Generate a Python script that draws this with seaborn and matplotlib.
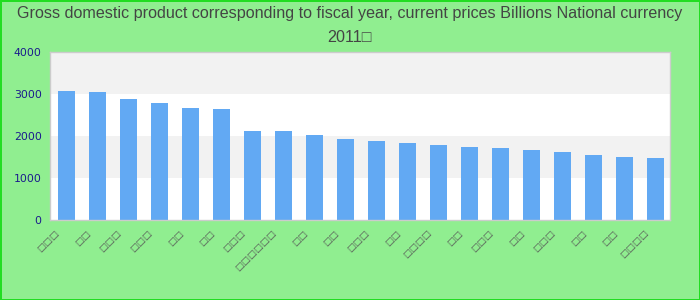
import numpy as np
import pandas as pd
import matplotlib
matplotlib.use("Agg")
import matplotlib.pyplot as plt
import matplotlib.transforms as mtransforms
import seaborn as sns

# --- DATA ---
# the region names in the reference are drawn as missing-glyph boxes,
# so they are kept as box characters of the same length
label_lengths = [3, 2, 3, 3, 2, 2, 3, 6, 2, 2, 3, 2, 4, 2, 3, 2, 3, 2, 2, 4]
regions = ["\u25a1" * n for n in label_lengths]
gdp = [3065, 3042, 2875, 2780, 2661, 2638, 2115, 2115, 2020, 1925,
       1877, 1830, 1782, 1735, 1711, 1663, 1616, 1545, 1497, 1473]
y_ticks = [0, 1000, 2000, 3000, 4000]
title = ("Gross domestic product corresponding to fiscal year, current prices "
         "Billions National currency\n2011\u25a1")

df = pd.DataFrame({"pos": range(len(gdp)), "gdp": gdp})

# --- STYLE ---
sns.set_style("white")
plt.rcParams["font.family"] = ["DejaVu Sans"]

fig = plt.figure(figsize=(7, 3), dpi=100)
fig.patch.set_facecolor("#90ee90")
fig.patch.set_edgecolor("#22dd22")
fig.patch.set_linewidth(2)

ax = fig.add_axes([50 / 700, 80 / 300, 620 / 700, 168 / 300])
ax.set_facecolor("white")

# alternating bands
for lo in [1000, 3000]:
    ax.axhspan(lo, lo + 1000, color="#f2f2f2", zorder=0, lw=0)

sns.barplot(data=df, x="pos", y="gdp", color="#62a9f3", saturation=1,
            width=0.55, ax=ax, zorder=2, linewidth=0, edgecolor="none")

ax.set_xlim(-0.52, len(gdp) - 0.53)
ax.set_ylim(0, 4000)
ax.set_yticks(y_ticks)
ax.set_yticklabels([str(v) for v in y_ticks], color="#1a1a8c", fontsize=7.8)
ax.tick_params(axis="y", length=0, pad=6)

ax.set_xticks(range(len(gdp)))
ax.set_xticklabels(regions, rotation=45, ha="right", fontsize=6.8,
                   color="#555555")
ax.tick_params(axis="x", length=0, pad=6)
shift = mtransforms.ScaledTranslation(-5 / 100, 0, fig.dpi_scale_trans)
for lbl in ax.get_xticklabels():
    lbl.set_transform(lbl.get_transform() + shift)

ax.set_xlabel("")
ax.set_ylabel("")
for s in ax.spines.values():
    s.set_color("#cccccc")
    s.set_linewidth(1)

fig.text(0.5, 1 - 6 / 300, title, ha="center", va="top",
         fontsize=11.6, color="#444444", family="Liberation Sans",
         linespacing=1.75)

fig.savefig("out.png", dpi=100, facecolor=fig.get_facecolor(),
            edgecolor=fig.get_edgecolor())
